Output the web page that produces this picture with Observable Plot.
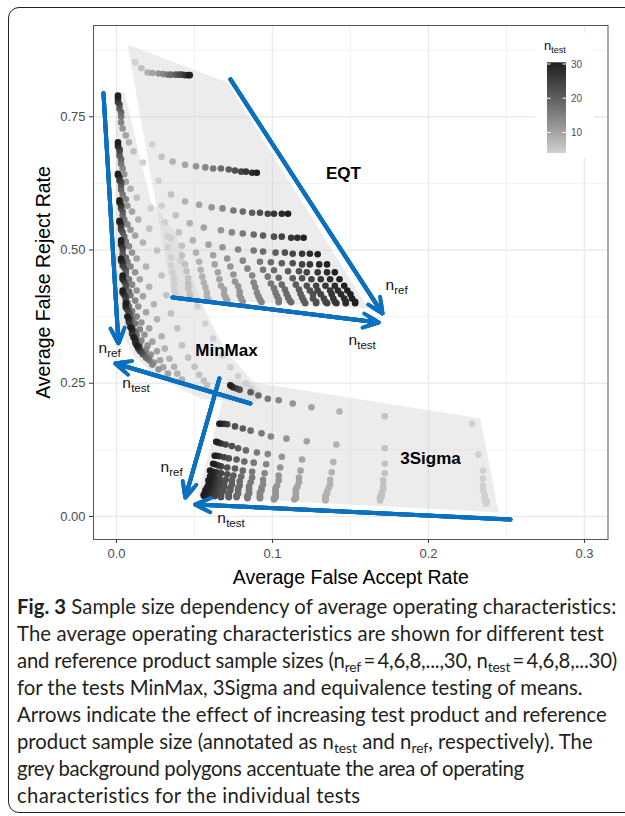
<!DOCTYPE html>
<html><head><meta charset="utf-8">
<script src="https://cdn.jsdelivr.net/npm/d3@7"></script>
<script src="https://cdn.jsdelivr.net/npm/@observablehq/plot@0.6"></script>
<style>
html,body{margin:0;padding:0;background:#fff;}
body{width:625px;height:816px;overflow:hidden;position:relative;font-family:"Liberation Sans",Arial,sans-serif;}
#border{position:absolute;left:8px;top:7px;width:660px;height:806px;border:1.6px solid #222;border-radius:11px;box-sizing:border-box;}
#chart{position:absolute;left:0;top:0;}
#legend{position:absolute;left:535px;top:33px;width:59px;height:125px;background:#fff;}
#caption{position:absolute;left:17px;top:593px;font-family:Lato,"Open Sans",sans-serif;font-size:20px;line-height:27px;color:#231f20;white-space:nowrap;}
#caption sub{font-size:0.68em;vertical-align:-0.28em;line-height:0;}
</style></head>
<body>
<div id="border"></div>
<div id="chart"></div>
<div id="legend"></div>
<div id="caption"></div>
<script>
// ---------- data ----------
const nSizes = [4,6,8,10,12,14,16,18,20,22,24,26,28,30]; // rows: n_ref, columns: n_test

const minmaxX = [
[0.017,0.011,0.008,0.006,0.004,0.003,0.003,0.003,0.002,0.002,0.001,0.001,0.001,0.001],
[0.022,0.013,0.009,0.006,0.005,0.004,0.003,0.003,0.002,0.002,0.002,0.001,0.001,0.001],
[0.035,0.021,0.014,0.010,0.007,0.006,0.004,0.003,0.003,0.003,0.002,0.002,0.001,0.001],
[0.041,0.026,0.017,0.012,0.009,0.007,0.005,0.004,0.004,0.003,0.003,0.003,0.002,0.002],
[0.047,0.029,0.019,0.013,0.010,0.008,0.006,0.005,0.004,0.003,0.003,0.003,0.002,0.002],
[0.052,0.032,0.021,0.015,0.012,0.009,0.007,0.006,0.004,0.004,0.004,0.003,0.003,0.003],
[0.057,0.035,0.024,0.017,0.013,0.010,0.008,0.006,0.006,0.005,0.004,0.004,0.003,0.003],
[0.062,0.039,0.026,0.019,0.014,0.012,0.009,0.008,0.006,0.006,0.005,0.004,0.004,0.004],
[0.068,0.042,0.029,0.021,0.016,0.013,0.010,0.008,0.007,0.006,0.006,0.005,0.004,0.004],
[0.073,0.046,0.031,0.023,0.018,0.015,0.012,0.010,0.009,0.008,0.007,0.006,0.006,0.006],
[0.078,0.050,0.034,0.026,0.020,0.016,0.013,0.012,0.010,0.009,0.008,0.008,0.008,0.007],
[0.083,0.053,0.037,0.028,0.022,0.019,0.015,0.013,0.012,0.011,0.010,0.010,0.010,0.009],
[0.086,0.056,0.039,0.030,0.024,0.021,0.018,0.016,0.014,0.013,0.012,0.012,0.012,0.011],
[0.088,0.058,0.042,0.033,0.027,0.023,0.021,0.019,0.017,0.016,0.015,0.014,0.014,0.013]];
const minmaxY = [
[0.664,0.685,0.702,0.715,0.728,0.739,0.750,0.758,0.765,0.773,0.777,0.782,0.786,0.790],
[0.578,0.598,0.615,0.628,0.642,0.653,0.662,0.670,0.677,0.685,0.689,0.694,0.698,0.702],
[0.522,0.540,0.557,0.572,0.583,0.595,0.604,0.613,0.621,0.627,0.630,0.636,0.640,0.643],
[0.480,0.499,0.514,0.527,0.538,0.548,0.557,0.565,0.572,0.578,0.582,0.585,0.589,0.593],
[0.433,0.452,0.469,0.484,0.495,0.507,0.516,0.525,0.533,0.538,0.542,0.548,0.552,0.555],
[0.394,0.415,0.431,0.445,0.458,0.469,0.478,0.486,0.493,0.501,0.505,0.510,0.514,0.518],
[0.362,0.381,0.398,0.413,0.424,0.435,0.445,0.454,0.461,0.467,0.471,0.477,0.480,0.484],
[0.334,0.353,0.370,0.383,0.394,0.405,0.415,0.422,0.430,0.435,0.441,0.445,0.448,0.452],
[0.302,0.321,0.338,0.353,0.364,0.375,0.385,0.394,0.401,0.407,0.411,0.416,0.420,0.424],
[0.280,0.298,0.315,0.328,0.341,0.351,0.362,0.370,0.377,0.383,0.388,0.392,0.396,0.400],
[0.263,0.281,0.296,0.310,0.321,0.330,0.340,0.347,0.355,0.360,0.364,0.368,0.371,0.375],
[0.250,0.266,0.281,0.293,0.304,0.313,0.321,0.328,0.334,0.340,0.343,0.349,0.351,0.355],
[0.240,0.255,0.268,0.280,0.289,0.298,0.306,0.311,0.317,0.323,0.326,0.330,0.332,0.336],
[0.231,0.246,0.257,0.268,0.276,0.285,0.293,0.298,0.304,0.308,0.311,0.315,0.319,0.321]];

const sigmaX = [
[0.228,0.172,0.143,0.125,0.113,0.104,0.097,0.091,0.086,0.079,0.077,0.075,0.074,0.073],
[0.232,0.172,0.141,0.122,0.109,0.099,0.093,0.086,0.081,0.076,0.071,0.069,0.067,0.066],
[0.235,0.172,0.139,0.119,0.106,0.097,0.090,0.083,0.078,0.074,0.070,0.067,0.065,0.064],
[0.235,0.172,0.138,0.118,0.105,0.096,0.088,0.082,0.077,0.072,0.069,0.066,0.064,0.063],
[0.235,0.171,0.137,0.117,0.104,0.095,0.087,0.081,0.076,0.071,0.067,0.065,0.063,0.062],
[0.235,0.171,0.137,0.117,0.104,0.094,0.087,0.080,0.075,0.071,0.067,0.064,0.062,0.060],
[0.236,0.171,0.136,0.116,0.103,0.094,0.086,0.079,0.074,0.070,0.066,0.063,0.062,0.060],
[0.236,0.170,0.135,0.115,0.102,0.093,0.085,0.079,0.074,0.069,0.066,0.063,0.061,0.059],
[0.236,0.170,0.135,0.115,0.102,0.093,0.085,0.078,0.073,0.069,0.065,0.062,0.060,0.059],
[0.237,0.170,0.134,0.115,0.102,0.092,0.085,0.078,0.073,0.068,0.064,0.062,0.060,0.058],
[0.237,0.169,0.134,0.115,0.102,0.092,0.085,0.078,0.072,0.068,0.064,0.061,0.059,0.057],
[0.237,0.169,0.134,0.115,0.102,0.092,0.084,0.077,0.072,0.067,0.063,0.061,0.059,0.057],
[0.237,0.169,0.134,0.115,0.101,0.092,0.084,0.077,0.072,0.067,0.063,0.060,0.058,0.056],
[0.237,0.169,0.134,0.114,0.101,0.092,0.084,0.077,0.072,0.067,0.063,0.060,0.058,0.056]];
const sigmaY = [
[0.174,0.188,0.197,0.205,0.212,0.218,0.221,0.227,0.233,0.238,0.240,0.242,0.244,0.246],
[0.116,0.128,0.135,0.141,0.146,0.150,0.156,0.161,0.165,0.169,0.173,0.174,0.174,0.174],
[0.086,0.099,0.102,0.107,0.112,0.117,0.120,0.124,0.128,0.132,0.135,0.137,0.139,0.140],
[0.071,0.081,0.083,0.086,0.092,0.098,0.101,0.103,0.107,0.109,0.111,0.113,0.114,0.114],
[0.058,0.068,0.069,0.073,0.077,0.081,0.084,0.086,0.090,0.092,0.094,0.096,0.098,0.099],
[0.049,0.058,0.060,0.064,0.068,0.069,0.073,0.075,0.077,0.079,0.081,0.083,0.084,0.086],
[0.041,0.051,0.053,0.056,0.058,0.060,0.064,0.066,0.068,0.069,0.071,0.073,0.075,0.075],
[0.036,0.045,0.047,0.051,0.053,0.054,0.056,0.058,0.060,0.062,0.064,0.066,0.066,0.068],
[0.032,0.041,0.043,0.045,0.047,0.049,0.051,0.053,0.054,0.056,0.058,0.058,0.060,0.060],
[0.030,0.038,0.039,0.041,0.043,0.045,0.047,0.049,0.049,0.051,0.053,0.053,0.054,0.054],
[0.028,0.036,0.036,0.038,0.039,0.041,0.043,0.043,0.045,0.047,0.047,0.049,0.049,0.049],
[0.026,0.034,0.034,0.036,0.036,0.038,0.039,0.039,0.041,0.041,0.043,0.043,0.045,0.045],
[0.024,0.032,0.032,0.034,0.034,0.036,0.036,0.038,0.038,0.039,0.039,0.041,0.041,0.041],
[0.024,0.030,0.030,0.032,0.032,0.034,0.034,0.036,0.036,0.036,0.038,0.038,0.039,0.039]];

const eqtX = [
[0.012,0.016,0.020,0.023,0.027,0.030,0.033,0.035,0.038,0.040,0.042,0.044,0.046,0.047],
[0.023,0.029,0.036,0.044,0.051,0.057,0.062,0.067,0.072,0.076,0.080,0.083,0.087,0.090],
[0.027,0.035,0.044,0.053,0.061,0.068,0.075,0.081,0.087,0.092,0.097,0.101,0.106,0.110],
[0.029,0.038,0.047,0.056,0.067,0.074,0.081,0.088,0.094,0.101,0.106,0.112,0.116,0.120],
[0.031,0.040,0.049,0.059,0.068,0.078,0.088,0.094,0.102,0.108,0.113,0.119,0.124,0.129],
[0.033,0.042,0.051,0.062,0.071,0.081,0.092,0.099,0.106,0.113,0.119,0.124,0.130,0.135],
[0.033,0.042,0.053,0.063,0.073,0.084,0.094,0.101,0.110,0.117,0.122,0.129,0.135,0.140],
[0.035,0.044,0.054,0.065,0.075,0.087,0.097,0.104,0.113,0.119,0.125,0.131,0.137,0.143],
[0.035,0.045,0.055,0.066,0.076,0.088,0.099,0.106,0.115,0.122,0.128,0.134,0.140,0.146],
[0.036,0.046,0.056,0.067,0.078,0.089,0.101,0.108,0.117,0.124,0.129,0.137,0.142,0.148],
[0.037,0.046,0.057,0.069,0.079,0.090,0.102,0.109,0.118,0.126,0.131,0.138,0.144,0.150],
[0.037,0.046,0.058,0.069,0.079,0.091,0.103,0.110,0.119,0.126,0.133,0.139,0.146,0.151],
[0.037,0.047,0.058,0.070,0.080,0.092,0.104,0.111,0.120,0.128,0.134,0.140,0.147,0.153],
[0.038,0.047,0.059,0.071,0.081,0.093,0.104,0.112,0.121,0.128,0.135,0.141,0.147,0.153]];
const eqtY = [
[0.852,0.841,0.833,0.832,0.831,0.830,0.829,0.829,0.829,0.829,0.829,0.828,0.828,0.828],
[0.698,0.675,0.666,0.660,0.657,0.655,0.653,0.653,0.651,0.649,0.647,0.647,0.645,0.645],
[0.630,0.604,0.591,0.585,0.580,0.578,0.574,0.572,0.570,0.570,0.568,0.568,0.568,0.568],
[0.583,0.565,0.550,0.542,0.537,0.533,0.531,0.529,0.527,0.525,0.525,0.523,0.523,0.523],
[0.552,0.533,0.518,0.510,0.505,0.501,0.499,0.497,0.495,0.495,0.493,0.493,0.493,0.492],
[0.525,0.508,0.495,0.490,0.484,0.480,0.478,0.477,0.475,0.475,0.473,0.473,0.473,0.473],
[0.505,0.490,0.478,0.473,0.469,0.465,0.463,0.462,0.460,0.460,0.458,0.458,0.458,0.458],
[0.486,0.473,0.463,0.458,0.454,0.452,0.450,0.448,0.447,0.447,0.445,0.445,0.445,0.445],
[0.471,0.460,0.450,0.445,0.441,0.439,0.437,0.435,0.435,0.433,0.433,0.433,0.433,0.433],
[0.458,0.447,0.439,0.433,0.432,0.430,0.428,0.426,0.426,0.424,0.424,0.424,0.424,0.424],
[0.447,0.437,0.430,0.426,0.422,0.420,0.420,0.418,0.418,0.417,0.417,0.417,0.417,0.417],
[0.435,0.428,0.420,0.417,0.415,0.413,0.413,0.411,0.411,0.409,0.409,0.409,0.409,0.409],
[0.426,0.418,0.413,0.411,0.409,0.407,0.407,0.405,0.405,0.403,0.403,0.403,0.403,0.403],
[0.418,0.413,0.407,0.405,0.403,0.402,0.402,0.402,0.400,0.400,0.400,0.400,0.400,0.400]];

// background polygons
const eqtPolyX = [0.0071,0.0712,0.1615,0.0359];
const eqtPolyY = [0.8856,0.8143,0.3902,0.4109];
const minmaxPolyX = [-0.0006,0.0051,0.0218,0.0378,0.0538,0.0699,0.0936,0.0891,0.0538,0.0250,0.0109,0.0];
const minmaxPolyY = [0.7955,0.7955,0.5929,0.5328,0.4053,0.3114,0.2326,0.2139,0.2214,0.2645,0.3021,0.3677];
const sigmaPolyX = [0.0718,0.2333,0.2449,0.0519];
const sigmaPolyY = [0.2589,0.1839,0.0075,0.0375];

// arrows (start -> end)
const arrowX1 = [-0.0083,0.0859,0.0660,0.2526,0.0731,0.0359];
const arrowY1 = [0.794,0.212,0.259,-0.0056,0.820,0.411];
const arrowX2 = [0.0013,-0.0006,0.0442,0.0506,0.1705,0.168];
const arrowY2 = [0.325,0.287,0.0356,0.0225,0.381,0.364];

// labels
const testNames = ["EQT","MinMax","3Sigma"];
const testLabelX = [0.1455,0.0705,0.2013];
const testLabelY = [0.6435,0.3114,0.1088];
const annSub = ["ref","test","ref","test","ref","test"];
const annX = [0.1724,0.1487,-0.0115,0.0038,0.0282,0.0647];
const annY = [0.4334,0.3302,0.3152,0.2495,0.0919,-0.0038];

const xMajor = [0,0.1,0.2,0.3], xMinor = [0.05,0.15,0.25];
const yMajor = [0,0.25,0.5,0.75], yMinor = [0.125,0.375,0.625,0.875];
const legendTicks = [10,20,30];
const xTitle = "Average False Accept Rate";
const yTitle = "Average False Reject Rate";

const captionLines = [
 "<b>Fig. 3</b> Sample size dependency of average operating characteristics:",
 "The average operating characteristics are shown for different test",
 "and reference product sample sizes (n<sub>ref</sub>\u2009=\u20094,6,8,...,30, n<sub>test</sub>\u2009=\u20094,6,8,...30)",
 "for the tests MinMax, 3Sigma and equivalence testing of means.",
 "Arrows indicate the effect of increasing test product and reference",
 "product sample size (annotated as n<sub>test</sub> and n<sub>ref</sub>, respectively). The",
 "grey background polygons accentuate the area of operating",
 "characteristics for the individual tests"];

// ---------- build tables ----------
function grid(test, X, Y) {
  const out = [];
  nSizes.forEach((nref, i) => nSizes.forEach((ntest, j) =>
    out.push({test, nref, ntest, x: X[i][j], y: Y[i][j]})));
  return out;
}
const points = [...grid("MinMax", minmaxX, minmaxY), ...grid("3Sigma", sigmaX, sigmaY), ...grid("EQT", eqtX, eqtY)]
  .sort((a, b) => a.ntest - b.ntest);
const poly = (test, X, Y) => X.map((x, i) => ({test, x, y: Y[i]}));
const polys = [...poly("EQT", eqtPolyX, eqtPolyY), ...poly("MinMax", minmaxPolyX, minmaxPolyY), ...poly("3Sigma", sigmaPolyX, sigmaPolyY)];
const arrows = arrowX1.map((x1, i) => ({x1, y1: arrowY1[i], x2: arrowX2[i], y2: arrowY2[i]}));
const testLabels = testNames.map((t, i) => ({t, x: testLabelX[i], y: testLabelY[i]}));
const ann = annSub.map((s, i) => ({s, x: annX[i], y: annY[i]}));

const blue = "#0b70c0";
const plot = Plot.plot({
  width: 625, height: 595,
  marginLeft: 93, marginRight: 17.5, marginTop: 25, marginBottom: 56,
  x: {domain: [-0.0147, 0.3151]},
  y: {domain: [-0.0432, 0.9212]},
  color: {type: "linear", domain: [4, 30], range: ["#d0d0d0", "#202020"], interpolate: "lab"},
  style: {fontFamily: "'Liberation Sans', Arial, sans-serif", fontSize: "13px", color: "#4d4d4d", background: "transparent", overflow: "visible"},
  marks: [
    Plot.ruleX(xMinor, {stroke: "#f1f1f1", strokeWidth: 0.9}),
    Plot.ruleY(yMinor, {stroke: "#f1f1f1", strokeWidth: 0.9}),
    Plot.ruleX(xMajor, {stroke: "#ebebeb", strokeWidth: 1.5}),
    Plot.ruleY(yMajor, {stroke: "#ebebeb", strokeWidth: 1.5}),
    Plot.line(polys, {x: "x", y: "y", z: "test", fill: "#d2d2d2", fillOpacity: 0.42, stroke: "none", curve: "linear-closed"}),
    Plot.dot(points, {x: "x", y: "y", fill: "ntest", r: 3.3}),
    ...[6.3, 4.8, 3.4, 2].map(h => Plot.arrow(arrows, {x1: "x1", y1: "y1", x2: "x2", y2: "y2", stroke: blue, strokeWidth: 4, headLength: h, headAngle: 50, strokeLinejoin: "miter"})),
    Plot.text(testLabels, {x: "x", y: "y", text: "t", fontWeight: "bold", fontSize: 17, fill: "#000"}),
    Plot.text(ann, {x: "x", y: "y", text: () => "n", textAnchor: "start", fontSize: 15.5, fill: "#111"}),
    Plot.text(ann, {x: "x", y: "y", text: "s", textAnchor: "start", dx: 8.8, dy: 5, fontSize: 11.5, fill: "#111"}),
    Plot.frame({stroke: "#555", strokeWidth: 1}),
    Plot.axisX(xMajor, {tickFormat: ".1f", tickSize: 4, tickPadding: 5, label: null, stroke: "#333"}),
    Plot.axisY(yMajor, {tickFormat: ".2f", tickSize: 4, tickPadding: 4, label: null, stroke: "#333"}),
    Plot.text([xTitle], {frameAnchor: "bottom", textAnchor: "middle", lineAnchor: "middle", dy: 38, fontSize: 19.5, fill: "#000"}),
    Plot.text([yTitle], {frameAnchor: "left", textAnchor: "middle", lineAnchor: "middle", dx: -50, rotate: -90, fontSize: 19.5, fill: "#000"})
  ]
});
document.getElementById("chart").appendChild(plot);

// ---------- legend (inside panel, top right) ----------
(function () {
  const color = plot.scale("color");
  const svg = d3.select("#legend").append("svg").attr("width", 59).attr("height", 125);
  const grad = svg.append("defs").append("linearGradient").attr("id", "lg").attr("x1", 0).attr("y1", 1).attr("x2", 0).attr("y2", 0);
  d3.range(4, 30.01, 2).forEach(v => grad.append("stop").attr("offset", (v - 4) / 26).attr("stop-color", color.apply(v)));
  const ys = d3.scaleLinear().domain([4, 30]).range([120, 31]);
  svg.append("rect").attr("x", 12).attr("y", ys(30.5)).attr("width", 19).attr("height", ys(4) - ys(30.5)).attr("fill", "url(#lg)");
  legendTicks.forEach(v => {
    svg.append("line").attr("x1", 12).attr("x2", 15.5).attr("y1", ys(v)).attr("y2", ys(v)).attr("stroke", "#fff").attr("stroke-width", 1);
    svg.append("line").attr("x1", 27.5).attr("x2", 31).attr("y1", ys(v)).attr("y2", ys(v)).attr("stroke", "#fff").attr("stroke-width", 1);
    svg.append("text").attr("x", 36).attr("y", ys(v)).attr("dy", "0.35em").attr("font-size", 10).attr("fill", "#4d4d58")
      .attr("font-family", "'Liberation Sans', Arial, sans-serif").text(v);
  });
  const t = svg.append("text").attr("x", 9).attr("y", 17).attr("font-family", "'Liberation Sans', Arial, sans-serif").attr("fill", "#111");
  t.append("tspan").attr("font-size", 13).text("n");
  t.append("tspan").attr("font-size", 9).attr("dy", 3).text("test");
})();

// ---------- caption ----------
(function () {
  const lineWidths = [600, 587, 600, 566, 589, 576, 503, 366];
  const cap = document.getElementById("caption");
  const spans = captionLines.map(h => {
    const d = document.createElement("div");
    const s = document.createElement("span");
    s.innerHTML = h; d.appendChild(s); cap.appendChild(d); return s;
  });
  let got = 0, want = 0;
  spans.forEach((s, i) => { got += s.getBoundingClientRect().width; want += lineWidths[i]; });
  if (got > 0) cap.style.fontSize = (20 * want / got) + "px";
  spans.forEach((s, i) => {
    const w = s.getBoundingClientRect().width;
    const n = s.textContent.length;
    if (n > 1) {
      const ls = Math.max(-0.35, Math.min(0.3, (lineWidths[i] - w) / n));
      s.style.letterSpacing = ls + "px";
    }
  });
})();
</script>
</body></html>
